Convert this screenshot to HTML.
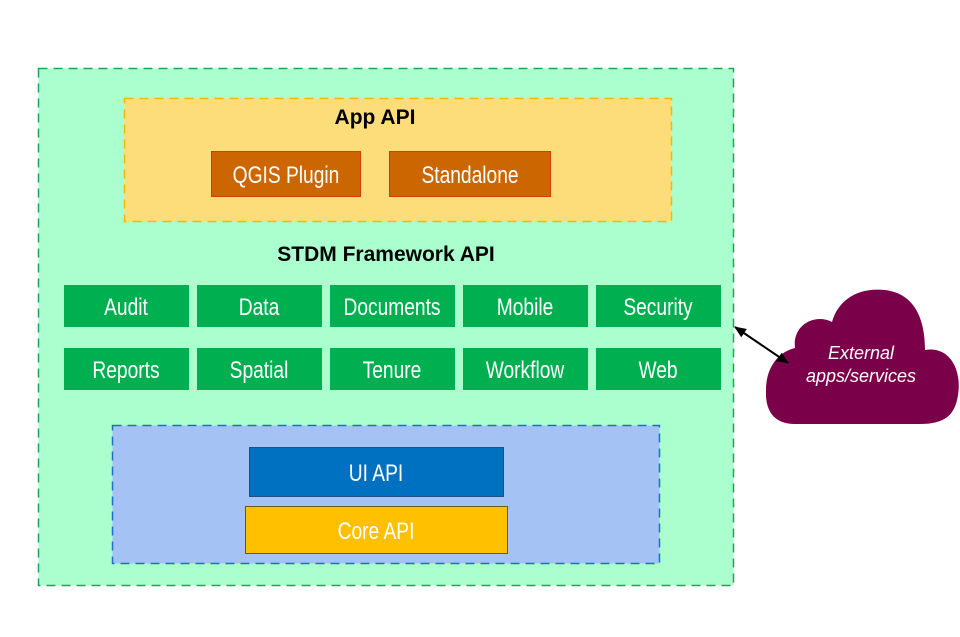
<!DOCTYPE html>
<html><head><style>
html,body{margin:0;padding:0;background:#fff;width:960px;height:637px;overflow:hidden}
svg{display:block}
.n{font-family:"Liberation Sans",sans-serif;font-size:24px;fill:#fff;text-anchor:middle}
.b{font-family:"Liberation Sans",sans-serif;font-size:21px;font-weight:bold;fill:#000;text-anchor:middle}
</style></head><body>
<svg width="960" height="637" viewBox="0 0 960 637">
<defs>
<marker id="a" markerWidth="12" markerHeight="10" refX="11" refY="5" orient="auto-start-reverse" markerUnits="userSpaceOnUse"><path d="M0,0 L12,5 L0,10 z" fill="#000"/></marker>
</defs>
<rect x="38.5" y="68.5" width="695" height="517" fill="#abfecd" stroke="#1fa35a" stroke-width="1.5" stroke-dasharray="9,6"/>
<rect x="124.5" y="98.5" width="547" height="123" fill="#fddd7a" stroke="#f5b800" stroke-width="1.5" stroke-dasharray="9,6"/>
<text class="b" x="375" y="124">App API</text>
<rect x="211.5" y="151.5" width="149" height="45" fill="#cc6600" stroke="#d83a10"/>
<rect x="389.5" y="151.5" width="161" height="45" fill="#cc6600" stroke="#d83a10"/>
<text class="b" x="386" y="261">STDM Framework API</text>
<g fill="#00b050">
<rect x="64" y="285" width="125" height="42"/><rect x="197" y="285" width="125" height="42"/><rect x="330" y="285" width="125" height="42"/><rect x="463" y="285" width="125" height="42"/><rect x="596" y="285" width="125" height="42"/>
<rect x="64" y="348" width="125" height="42"/><rect x="197" y="348" width="125" height="42"/><rect x="330" y="348" width="125" height="42"/><rect x="463" y="348" width="125" height="42"/><rect x="596" y="348" width="125" height="42"/>
</g>
<rect x="112.5" y="425.5" width="547" height="138" fill="#a4c2f4" stroke="#1c6fd0" stroke-width="1.5" stroke-dasharray="9,6"/>
<rect x="249.5" y="447.5" width="254" height="49" fill="#0070c0" stroke="#1f4e8a"/>
<rect x="245.5" y="506.5" width="262" height="47" fill="#ffc000" stroke="#6b5a20"/>
<g class="n">
<text transform="translate(286,183) scale(0.8,1)">QGIS Plugin</text>
<text transform="translate(470,183) scale(0.8,1)">Standalone</text>
<text transform="translate(126,315) scale(0.8,1)">Audit</text>
<text transform="translate(259,315) scale(0.8,1)">Data</text>
<text transform="translate(392,315) scale(0.8,1)">Documents</text>
<text transform="translate(525,315) scale(0.8,1)">Mobile</text>
<text transform="translate(658,315) scale(0.8,1)">Security</text>
<text transform="translate(126,378) scale(0.8,1)">Reports</text>
<text transform="translate(259,378) scale(0.8,1)">Spatial</text>
<text transform="translate(392,378) scale(0.8,1)">Tenure</text>
<text transform="translate(525,378) scale(0.8,1)">Workflow</text>
<text transform="translate(658,378) scale(0.8,1)">Web</text>
<text transform="translate(376,481) scale(0.8,1)">UI API</text>
<text transform="translate(376,539) scale(0.8,1)">Core API</text>
</g>
<path d="M795,348 C792,325 815,313 832,322 C838,300 858,287 885,290 C912,293 925,315 925,350 C950,346 962,370 958,395 C955,415 945,424 920,424 L795,424 C775,424 765,412 766,390 C766,368 778,352 795,348 Z" fill="#7a004a"/>
<text x="861" y="359" font-family="Liberation Sans,sans-serif" font-size="18" font-style="italic" fill="#fff" text-anchor="middle">External</text>
<text x="861" y="382" font-family="Liberation Sans,sans-serif" font-size="18" font-style="italic" fill="#fff" text-anchor="middle">apps/services</text>
<line x1="735" y1="327" x2="788" y2="363" stroke="#000" stroke-width="2" marker-start="url(#a)" marker-end="url(#a)"/>
</svg>
</body></html>
